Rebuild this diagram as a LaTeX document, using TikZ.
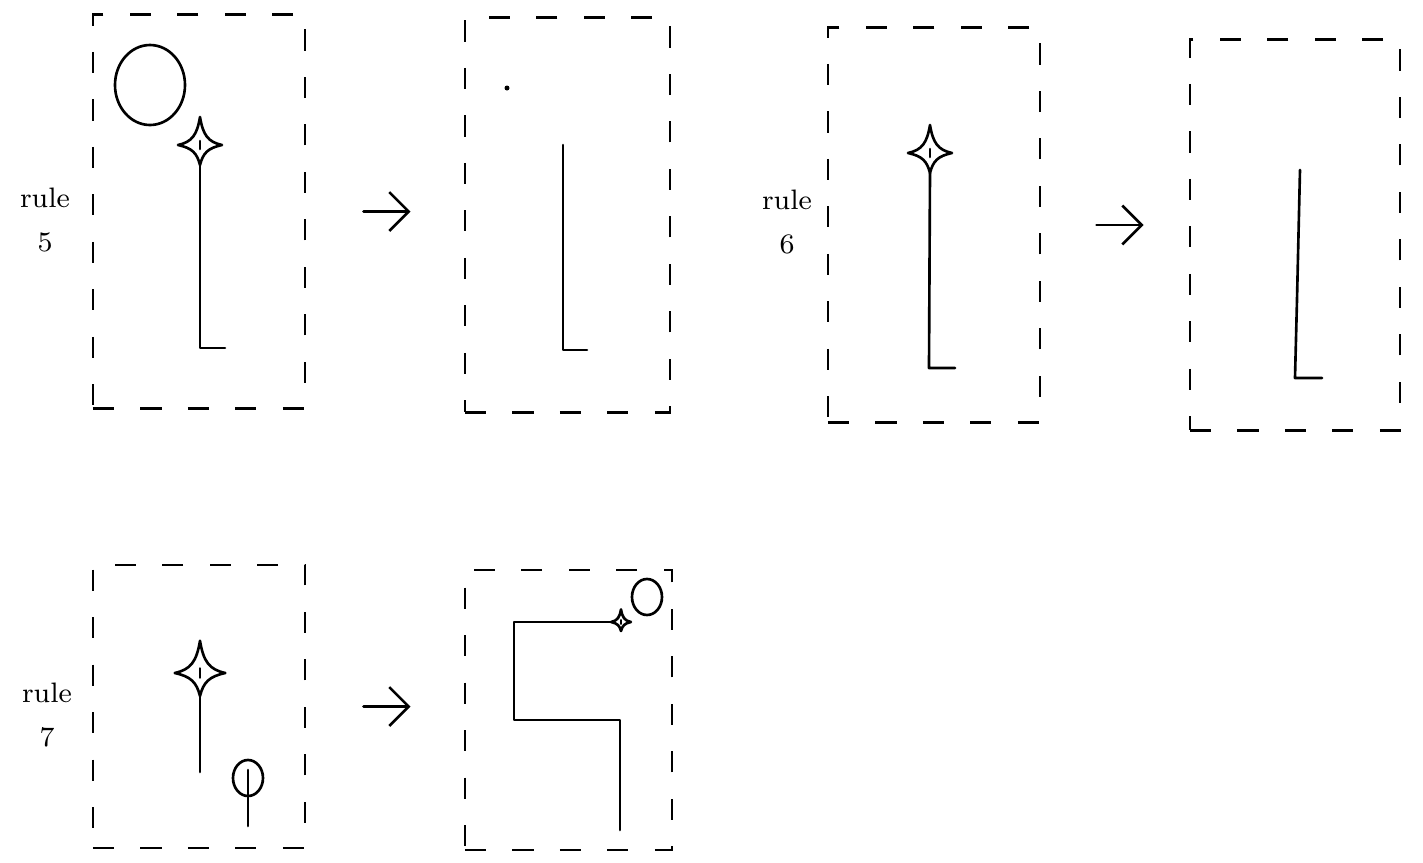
\documentclass[tikz,border=0pt]{standalone}
\usepackage{tikz}
\usetikzlibrary{arrows.meta,positioning}

\begin{document}
\begin{tikzpicture}[x=0.01cm, y=-0.01cm,
  ink/.style={line width=0.75pt, line cap=round, line join=round},
  rulebox/.style={draw, line width=0.8pt, dash pattern=on 6pt off 7.5pt, inner sep=0pt},
  rulelabel/.style={align=center, font=\footnotesize, inner sep=0pt},
  arr/.style={ink, -{Straight Barb[length=5.5pt, width=11pt]}},
  spark/.pic={
    \draw[ink] (-22,0) .. controls (-8,-3) and (-3,-10) .. (0,-28)
      .. controls (3,-10) and (8,-3) .. (22,0)
      .. controls (8,3) and (3,8) .. (0,20)
      .. controls (-3,8) and (-8,3) .. cycle;
    \draw[ink] (0,-4) -- (0,4);
  }]
\useasboundingbox (0,0) rectangle (1423,863);

% rule 5
\node[rulebox, minimum width=2.12cm, minimum height=3.93cm] (B5a) at (199,211.5) {};
\node[rulebox, minimum width=2.05cm, minimum height=3.94cm] (B5b) at (567.5,215) {};
\node[rulelabel] (L5) at (45,220) {rule\\[3pt]5};
\draw[ink] (150,85) circle[x radius=35, y radius=40];
\pic at (200,145) {spark};
\draw[ink] (200,165) -- (200,348) -- (225,348);
\fill (507,88) circle[radius=2.5];
\draw[ink] (563,145) -- (563,350) -- (587,350);
\coordinate (a5s) at ([xshift=0.57cm]B5a.east);
\coordinate (a5e) at ([xshift=-0.53cm]B5b.west |- a5s);
\draw[arr] (a5s) -- (a5e);

% rule 6
\node[rulebox, minimum width=2.12cm, minimum height=3.94cm] (B6a) at (934,225) {};
\node[rulebox, minimum width=2.10cm, minimum height=3.90cm] (B6b) at (1295,235) {};
\node[rulelabel] (L6) at (787,222) {rule\\[3pt]6};
\pic at (930,153) {spark};
\draw[ink] (930,173) -- (929,368) -- (955,368);
\draw[ink] (1300,170) -- (1297,300) -- (1295,378) -- (1322,378);
\coordinate (a6s) at ([xshift=0.55cm]B6a.east);
\coordinate (a6e) at ([xshift=-0.45cm]B6b.west |- a6s);
\draw[arr] (a6s) -- (a6e);

% rule 7
\node[rulebox, minimum width=2.12cm, minimum height=2.83cm] (B7a) at (199,706.5) {};
\node[rulebox, minimum width=2.07cm, minimum height=2.80cm] (B7b) at (568.5,710) {};
\node[rulelabel] (L7) at (47,715) {rule\\[3pt]7};
\pic[scale=1.15] at (200,673) {spark};
\draw[ink] (200,696) -- (200,772);
\draw[ink] (248,778) circle[x radius=15, y radius=18];
\draw[ink] (248,770) -- (248,826);
\draw[ink] (612,622) -- (514,622) -- (514,720) -- (620,720) -- (620,830);
\pic[scale=0.45] at (621,622) {spark};
\draw[ink] (647,597) circle[x radius=15, y radius=18];
\coordinate (a7s) at ([xshift=0.57cm]B7a.east);
\coordinate (a7e) at ([xshift=-0.53cm]B7b.west |- a7s);
\draw[arr] (a7s) -- (a7e);
\end{tikzpicture}
\end{document}
